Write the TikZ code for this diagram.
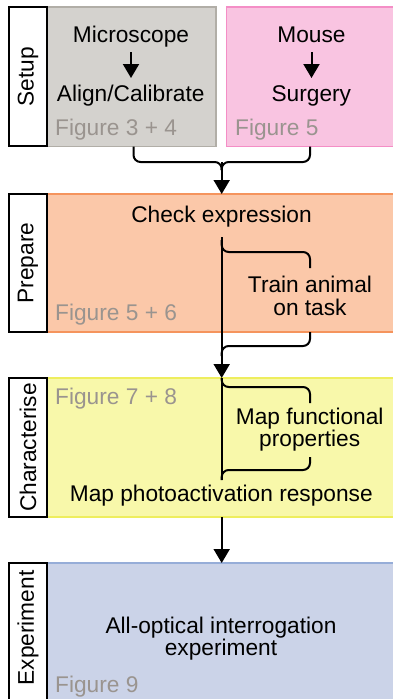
\documentclass[tikz,border=0pt]{standalone}
\usepackage{fontspec}
\setmainfont{Liberation Sans}
\usetikzlibrary{arrows.meta}
\definecolor{grayfill}{HTML}{D4D2CE}
\definecolor{grayline}{HTML}{B1AEA7}
\definecolor{pinkfill}{HTML}{F9C4E1}
\definecolor{pinkline}{HTML}{F48EC6}
\definecolor{orfill}{HTML}{FBC8A9}
\definecolor{orline}{HTML}{F5945D}
\definecolor{yelfill}{HTML}{F8F8AA}
\definecolor{yelline}{HTML}{EEEE5E}
\definecolor{bluefill}{HTML}{CBD3E8}
\definecolor{blueline}{HTML}{96ADD8}
\definecolor{figgray}{HTML}{9A948F}
\newcommand{\bigtxt}{\fontsize{22.7}{23}\selectfont}
\tikzset{
  lblbox/.style={draw=black, line width=2pt, fill=white, anchor=north west, minimum width=38pt, inner sep=0pt, outer sep=0pt},
  phasebox/.style={line width=1.5pt, anchor=north west, inner sep=0pt, outer sep=0pt},
  lbltxt/.style={font=\bigtxt, rotate=90, inner sep=0pt},
  txt/.style={font=\bigtxt, anchor=base, inner sep=0pt, align=center},
  figtxt/.style={font=\bigtxt, text=figgray, anchor=base west, inner sep=0pt},
  conn/.style={line width=2pt, line cap=butt},
  arr/.style={conn, -{Triangle[width=16pt,length=14pt]}},
  brace/.style={conn, rounded corners=7pt},
}
\begin{document}
\begin{tikzpicture}[x=1pt,y=-1pt]
\useasboundingbox (0,0) rectangle (393,699);
\clip (0,0) rectangle (393,699);
\fill[white] (0,0) rectangle (393,699);
% boxes
\node[phasebox, fill=grayfill, draw=grayline, minimum width=169pt, minimum height=139.5pt] (micbox) at (47,7) {};
\node[phasebox, fill=pinkfill, draw=pinkline, minimum width=180pt, minimum height=139.5pt] (mousebox) at (226.5,7) {};
\node[phasebox, fill=orfill, draw=orline, minimum width=360pt, minimum height=138pt] (prepbox) at (47,194) {};
\node[phasebox, fill=yelfill, draw=yelline, minimum width=360pt, minimum height=139pt] (charbox) at (47,378) {};
\node[phasebox, fill=bluefill, draw=blueline, minimum width=360pt, minimum height=150pt] (expbox) at (47,563) {};
\node[lblbox, minimum height=139pt] (setuplbl) at (9,7) {};
\node[lblbox, minimum height=138pt] (preplbl) at (9,194) {};
\node[lblbox, minimum height=139pt] (charlbl) at (9,378) {};
\node[lblbox, minimum height=150pt] (explbl) at (9,563) {};
% labels
\node[lbltxt] (setupt) at (28,76.5) {Setup};
\node[lbltxt] (prept) at (28,263) {Prepare};
\node[lbltxt] (chart) at (28,447.5) {Characterise};
\node[lbltxt] (expt) at (28,628) {Experiment};
% texts
\node[txt] (mic) at (131,42.7) {Microscope};
\node[txt] (align) at (130.7,101) {Align/Calibrate};
\node[figtxt] (fig34) at (55,135) {Figure 3 + 4};
\node[txt] (mouse) at (311.5,42.7) {Mouse};
\node[txt] (surg) at (311.3,101) {Surgery};
\node[figtxt] (fig5) at (235,135) {Figure 5};
\node[txt] (chk) at (221.5,222.3) {Check expression};
\node[txt] (train) at (310,292.7) {Train animal};
\node[txt] (task) at (310,315) {on task};
\node[figtxt] (fig56) at (55,320.7) {Figure 5 + 6};
\node[figtxt] (fig78) at (55,404) {Figure 7 + 8};
\node[txt] (mapf) at (309.7,424) {Map functional};
\node[txt] (prop) at (309.7,446.5) {properties};
\node[txt] (photo) at (221.3,501.7) {Map photoactivation response};
\node[txt] (allopt) at (221,633.3) {All-optical interrogation};
\node[txt] (expm) at (221,655.7) {experiment};
\node[figtxt] (fig9) at (55,692.3) {Figure 9};
% setup arrows
\coordinate (m1) at (131,52);
\coordinate (m2) at (131,78);
\coordinate (s1) at (311.5,52);
\coordinate (s2) at (311.5,78);
\draw[arr] (m1) -- (m2);
\draw[arr] (s1) -- (s2);
% setup brace
\coordinate (bl) at (133.5,146.5);
\coordinate (br) at (310,146.5);
\coordinate (sj) at (221.7,162);
\coordinate (sjd) at (221.7,170);
\draw[brace] (bl) -- (133.5,162) -- (sj) -- (sjd);
\draw[brace] (br) -- (310,162) -- (sj) -- (sjd);
\draw[arr] (sj) -- (prepbox.north -| sj);
% prepare trunk
\coordinate (ptop) at (221.7,237);
\draw[arr] (ptop) -- (charbox.north -| ptop);
\coordinate (pb1) at (221.7,240);
\coordinate (pb2) at (310,268);
\draw[brace] (pb1) -- (221.7,252) -- (310,252) -- (pb2);
\coordinate (pb3) at (310,332);
\coordinate (pb4) at (221.7,356);
\draw[brace] (pb3) -- (310,346) -- (221.7,346) -- (pb4);
% characterise trunk
\coordinate (cbot) at (221.7,480);
\draw[conn] (charbox.north -| ptop) -- (cbot);
\coordinate (cb2) at (310,403);
\draw[brace] (charbox.north -| ptop) -- (221.7,387) -- (310,387) -- (cb2);
\coordinate (cb3) at (310,457);
\draw[brace] (cb3) -- (310,470) -- (221.7,470) -- (cbot);
% to experiment
\draw[arr] (charbox.south -| ptop) -- (expbox.north -| ptop);
\end{tikzpicture}
\end{document}
